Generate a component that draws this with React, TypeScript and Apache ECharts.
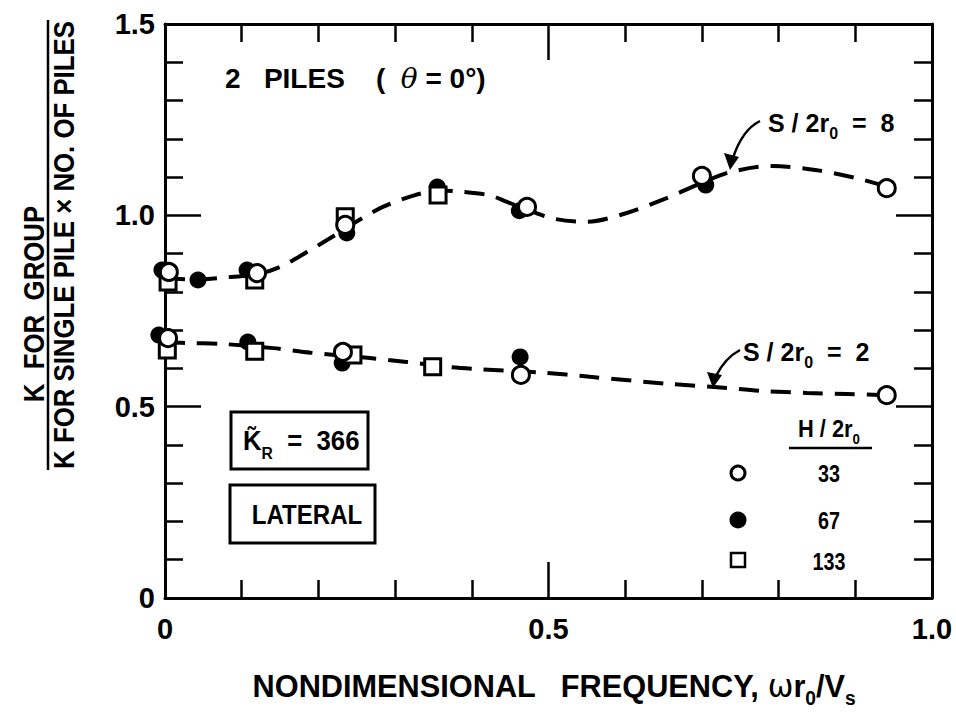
import React, { useEffect, useRef } from "react";
import * as echarts from "echarts";

// ---- data ----
const upperOpen: number[][] = [[0.005, 0.852], [0.12, 0.849], [0.235, 0.975], [0.472, 1.022], [0.70, 1.103], [0.941, 1.071]];
const upperFilled: number[][] = [[-0.004, 0.857], [0.043, 0.831], [0.107, 0.857], [0.237, 0.954], [0.355, 1.074], [0.462, 1.012], [0.705, 1.079]];
const upperSquare: number[][] = [[0.004, 0.826], [0.117, 0.831], [0.235, 0.996], [0.356, 1.053]];
const upperCurve: number[][] = [[0, 0.836], [0.04, 0.832], [0.08, 0.838], [0.12, 0.846], [0.15, 0.865], [0.185, 0.904], [0.215, 0.94], [0.24, 0.972], [0.284, 1.022], [0.326, 1.053], [0.36, 1.065], [0.385, 1.062], [0.424, 1.052], [0.446, 1.035], [0.47, 1.017], [0.505, 0.992], [0.55, 0.983], [0.602, 1.006], [0.654, 1.045], [0.70, 1.085], [0.737, 1.113], [0.791, 1.129], [0.85, 1.118], [0.902, 1.097], [0.941, 1.075]];

const lowerOpen: number[][] = [[0.004, 0.679], [0.232, 0.643], [0.464, 0.583], [0.941, 0.530]];
const lowerFilled: number[][] = [[-0.008, 0.687], [0.108, 0.669], [0.231, 0.614], [0.463, 0.630]];
const lowerSquare: number[][] = [[0.003, 0.648], [0.117, 0.645], [0.245, 0.635], [0.349, 0.604]];
const lowerCurve: number[][] = [[0, 0.668], [0.037, 0.666], [0.074, 0.664], [0.141, 0.653], [0.19, 0.641], [0.267, 0.627], [0.315, 0.617], [0.369, 0.604], [0.41, 0.598], [0.492, 0.589], [0.554, 0.578], [0.654, 0.56], [0.72, 0.551], [0.78, 0.541], [0.837, 0.536], [0.889, 0.533], [0.941, 0.53]];

const xTickLabels: Record<string, string> = { "0": "0", "0.5": "0.5", "1": "1.0" };
const yTickLabels: Record<string, string> = { "0": "0", "0.5": "0.5", "1": "1.0", "1.5": "1.5" };
const legendLabels = ["33", "67", "133"];

const FONT = "'Liberation Sans', Arial, sans-serif";

export default function App() {
  const ref = useRef<HTMLDivElement>(null);
  useEffect(() => {
    if (!ref.current) return;
    const chart = echarts.init(ref.current, null, { renderer: "svg" });

    const axisCommon = {
      type: "value" as const,
      min: 0,
      interval: 0.5,
      axisLine: { show: true, onZero: false, lineStyle: { color: "#000", width: 3 } },
      axisTick: { show: true, inside: true, length: 36, lineStyle: { color: "#000", width: 2.5 } },
      minorTick: { show: true, splitNumber: 5, length: 18, lineStyle: { color: "#000", width: 2.5 } },
      splitLine: { show: false },
      minorSplitLine: { show: false },
    };
    const labelStyle = { color: "#000", fontFamily: FONT, fontWeight: "bold" as const, fontSize: 29 };

    const scatter = (data: number[][], symbol: string, filled: boolean, size: number, z: number) => ({
      type: "scatter" as const,
      data,
      symbol,
      symbolSize: size,
      clip: false,
      z,
      itemStyle: { color: filled ? "#000" : "#fff", borderColor: "#000", borderWidth: filled ? 0 : 3, opacity: 1 },
    });
    const curve = (data: number[][]) => ({
      type: "line" as const,
      data,
      smooth: 0.3,
      showSymbol: false,
      symbol: "none",
      z: 1,
      lineStyle: { color: "#000", width: 4, type: [20, 12] as any, cap: "butt" as const },
    });

    const T = (x: number, y: number, text: string, opts: any = {}) => ({
      type: "text",
      x,
      y,
      z: 100,
      rotation: opts.rotation || 0,
      scaleX: opts.scaleX ?? 0.86,
      style: {
        text,
        fill: "#000",
        fontFamily: FONT,
        fontWeight: "bold",
        fontSize: opts.fontSize || 26,
        align: opts.align || "center",
        verticalAlign: "middle",
        rich: opts.rich,
      },
    });

    const subRich = (fs: number) => ({
      m: { fontSize: fs, fontFamily: FONT, fontWeight: "bold", lineHeight: fs + 12, verticalAlign: "middle" },
      sub: { fontSize: Math.round(fs * 0.62), fontFamily: FONT, fontWeight: "bold", lineHeight: Math.round(fs * 0.62), verticalAlign: "bottom" },
      it: { fontSize: fs, fontFamily: "'DejaVu Serif', serif", fontStyle: "italic", lineHeight: fs + 12, verticalAlign: "middle" },
      w: { fontSize: fs, fontFamily: "'DejaVu Sans', sans-serif", lineHeight: fs + 12, verticalAlign: "middle" },
    });

    const option: any = {
      animation: false,
      backgroundColor: "#fff",
      grid: { left: 165, right: 24, top: 24, bottom: 117 },
      xAxis: [
        {
          ...axisCommon,
          max: 1,
          position: "bottom",
          axisLabel: { ...labelStyle, margin: 16, formatter: (v: number) => xTickLabels[String(v)] ?? "" },
        },
        { ...axisCommon, max: 1, position: "top", axisLabel: { show: false } },
      ],
      yAxis: [
        {
          ...axisCommon,
          max: 1.5,
          position: "left",
          axisLabel: { ...labelStyle, margin: 10, formatter: (v: number) => yTickLabels[String(v)] ?? "" },
        },
        { ...axisCommon, max: 1.5, position: "right", axisLabel: { show: false } },
      ],
      series: [
        curve(upperCurve),
        curve(lowerCurve),
        scatter(upperFilled, "circle", true, 17, 3),
        scatter(lowerFilled, "circle", true, 17, 3),
        scatter(upperSquare, "rect", false, 16, 4),
        scatter(lowerSquare, "rect", false, 16, 4),
        scatter(upperOpen, "circle", false, 17, 5),
        scatter(lowerOpen, "circle", false, 17, 5),
      ],
      graphic: [
        // y-axis fraction label
        T(34, 304, "K  FOR  GROUP", { rotation: Math.PI / 2, fontSize: 30 }),
        T(64, 245, "K FOR SINGLE PILE × NO. OF PILES", { rotation: Math.PI / 2, fontSize: 30 }),
        { type: "line", z: 100, shape: { x1: 48, y1: 20, x2: 48, y2: 470 }, style: { stroke: "#000", lineWidth: 2.5 } },
        // x-axis title
        T(554, 686, "{m|NONDIMENSIONAL   FREQUENCY,} {w|ω}{m|r}{sub|0}{m|/V}{sub|s}", { fontSize: 32, scaleX: 0.96, rich: subRich(32) }),
        // annotations
        T(225, 78, "{m|2   PILES    (  }{it|θ}{m| = 0°)}", { align: "left", fontSize: 28, scaleX: 1.0, rich: subRich(28) }),
        T(768, 123, "{m|S / 2r}{sub|0}{m|  =  8}", { align: "left", fontSize: 25, scaleX: 1.0, rich: subRich(25) }),
        T(743, 352, "{m|S / 2r}{sub|0}{m|  =  2}", { align: "left", fontSize: 25, scaleX: 1.0, rich: subRich(25) }),
        // arrows
        { type: "bezierCurve", z: 100, shape: { x1: 760, y1: 121, cpx1: 742, cpy1: 130, x2: 733, y2: 158 }, style: { stroke: "#000", lineWidth: 2.5, fill: "none" } },
        { type: "polygon", z: 100, shape: { points: [[730, 170], [724, 153], [739, 157]] }, style: { fill: "#000" } },
        { type: "bezierCurve", z: 100, shape: { x1: 740, y1: 350, cpx1: 725, cpy1: 358, x2: 716, y2: 376 }, style: { stroke: "#000", lineWidth: 2.5, fill: "none" } },
        { type: "polygon", z: 100, shape: { points: [[713, 388], [707, 372], [722, 375]] }, style: { fill: "#000" } },
        // boxes
        { type: "rect", z: 100, shape: { x: 231, y: 412, width: 137, height: 57 }, style: { stroke: "#000", lineWidth: 3, fill: "none" } },
        T(243, 441, "{m|K\u0303}{sub|R}{m|  =  366}", { align: "left", fontSize: 28, scaleX: 0.92, rich: subRich(28) }),
        { type: "rect", z: 100, shape: { x: 230, y: 485, width: 145, height: 58 }, style: { stroke: "#000", lineWidth: 3, fill: "none" } },
        T(307, 514, "LATERAL", { fontSize: 28 }),
        // legend
        T(829, 429, "{m|H / 2r}{sub|0}", { fontSize: 23, scaleX: 0.95, rich: subRich(23) }),
        { type: "line", z: 100, shape: { x1: 789, y1: 448, x2: 872, y2: 448 }, style: { stroke: "#000", lineWidth: 2.5 } },
        { type: "circle", z: 100, shape: { cx: 738, cy: 473, r: 7 }, style: { stroke: "#000", lineWidth: 3, fill: "#fff" } },
        { type: "circle", z: 100, shape: { cx: 738, cy: 520, r: 8.5 }, style: { fill: "#000" } },
        { type: "rect", z: 100, shape: { x: 731, y: 553, width: 14, height: 14 }, style: { stroke: "#000", lineWidth: 2.5, fill: "#fff" } },
        T(829, 474, legendLabels[0], { fontSize: 23 }),
        T(829, 521, legendLabels[1], { fontSize: 23 }),
        T(829, 562, legendLabels[2], { fontSize: 23 }),
      ],
    };
    chart.setOption(option);
    return () => chart.dispose();
  }, []);
  return <div ref={ref} style={{ position: "fixed", left: 0, top: 0, width: 956, height: 715, background: "#fff" }} />;
}
